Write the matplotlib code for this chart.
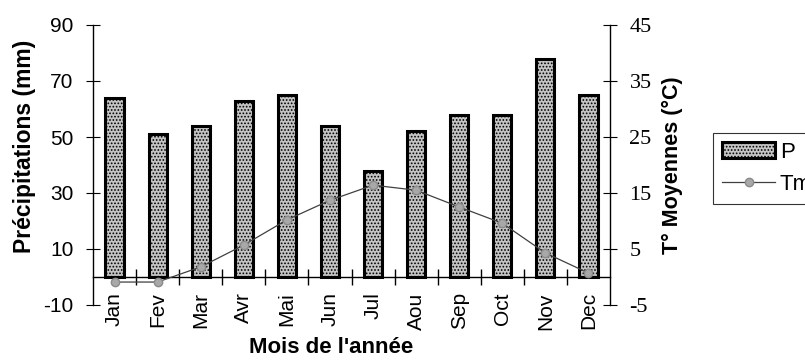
import matplotlib
matplotlib.use("Agg")
import matplotlib.pyplot as plt
import numpy as np
from matplotlib.ticker import FixedLocator

plt.rcParams['font.family'] = ['Liberation Sans', 'DejaVu Sans']
plt.rcParams['axes.unicode_minus'] = False
plt.rcParams['hatch.color'] = '#6e6e6e'
plt.rcParams['hatch.linewidth'] = 0.8

months = ["Jan", "Fev", "Mar", "Avr", "Mai", "Jun", "Jul", "Aou", "Sep", "Oct", "Nov", "Dec"]
precip_mm = [64, 51, 54, 63, 65, 54, 38, 52, 58, 58, 78, 65]
temp_c = [-0.9, -0.9, 1.8, 5.7, 10.2, 13.7, 16.4, 15.5, 12.5, 9.6, 4.3, 0.7]

left_ticks = [-10, 10, 30, 50, 70, 90]
right_ticks = [-5, 5, 15, 25, 35, 45]

fig = plt.figure(figsize=(8.05, 3.63), dpi=100)
ax = fig.add_axes([93/805, 1-305/363, (610-93)/805, (305-25)/363])

x = np.arange(len(months))
bars = ax.bar(x, precip_mm, width=0.42, facecolor='#c4c4c4', edgecolor='black',
              linewidth=2.2, hatch='.....', zorder=2, label='P')

ax.set_xlim(-0.5, len(months) - 0.5)
ax.set_ylim(left_ticks[0], left_ticks[-1])
ax.set_yticks(left_ticks)

ax.spines['top'].set_visible(False)
ax.spines['right'].set_visible(False)
ax.spines['bottom'].set_position(('data', 0))
ax.spines['bottom'].set_linewidth(1.0)
ax.spines['left'].set_linewidth(1.0)

ax.set_xticks(x)
ax.set_xticklabels(months, rotation=90, fontsize=15)
ax.tick_params(axis='x', which='major', length=0, pad=11)
ax.xaxis.set_minor_locator(FixedLocator(x[:-1] + 0.5))
ax.tick_params(axis='x', which='minor', direction='inout', length=12, width=1.0)
ax.tick_params(axis='y', direction='inout', length=10, width=0.8, labelsize=15, pad=9)

ax.set_ylabel("Précipitations (mm)", fontsize=16.5, fontweight='bold')
ax.yaxis.set_label_coords(-0.11, 0.565)
ax.set_xlabel("Mois de l'année", fontsize=16, fontweight='bold')
ax.xaxis.set_label_coords(0.46, -0.115)

ax2 = ax.twinx()
ax2.set_ylim(right_ticks[0], right_ticks[-1])
ax2.set_yticks(right_ticks)
ax2.spines['top'].set_visible(False)
ax2.spines['bottom'].set_visible(False)
ax2.spines['left'].set_visible(False)
ax2.spines['right'].set_linewidth(1.0)
ax2.tick_params(axis='y', direction='inout', length=10, width=0.8, labelsize=16, pad=9)
for lbl in ax2.get_yticklabels():
    lbl.set_family(['Liberation Serif', 'DejaVu Serif'])
line, = ax2.plot(x, temp_c, color='#404040', linewidth=0.9, marker='o', markersize=6,
                 markerfacecolor='#a8a8a8', markeredgecolor='#8a8a8a', label='Tm', zorder=3)
ax2.set_ylabel("T° Moyennes (°C)", fontsize=15.5, fontweight='bold')
ax2.yaxis.set_label_coords(1.10, 0.5)

leg = fig.legend(handles=[bars, line], labels=['P', 'Tm'], loc='upper left',
                 bbox_to_anchor=(713/805, 1-133/363), frameon=True, fancybox=False,
                 edgecolor='black', fontsize=16, handlelength=2.4, handletextpad=0.2,
                 borderpad=0.4, labelspacing=0.5, borderaxespad=0)
leg.get_frame().set_linewidth(0.8)

fig.savefig("out.png", dpi=100)
